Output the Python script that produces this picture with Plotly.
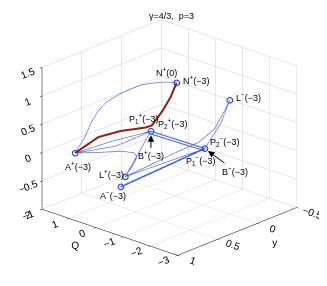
import plotly.graph_objects as go

# ---- data (Q, y, x) ----
pt_names = ["A+", "A-", "N+", "L-", "P+", "P-", "L+"]
pt_Q = [1.37, -0.32, -0.91, -1.99, -0.55, -1.95, -0.19]
pt_y = [0.80, 0.80, 0.30, 0.00, 0.50, 0.30, 0.70]
pt_x = [-0.02, -0.34, 1.31, 1.01, 0.51, 0.32, -0.24]

red_Q = [1.37, 0.74, 0.15, -0.18, -0.49, -0.59, -0.79, -0.87, -0.91]
red_y = [0.80, 0.72, 0.64, 0.60, 0.54, 0.50, 0.43, 0.36, 0.30]
red_x = [-0.02, 0.32, 0.48, 0.54, 0.59, 0.62, 0.88, 1.09, 1.31]

arc_Q = [1.37, 1.15, 1.03, 0.87, 0.69, 0.42, 0.15, -0.12, -0.39, -0.62, -0.91]
arc_y = [0.80, 0.75, 0.715, 0.68, 0.63, 0.58, 0.52, 0.46, 0.40, 0.34, 0.30]
arc_x = [-0.02, 0.27, 0.52, 0.74, 0.90, 1.04, 1.15, 1.24, 1.28, 1.30, 1.31]

loop_Q = [1.37, 0.47, -0.23, -0.66, -0.74, -0.56, -0.34, -0.19]
loop_y = [0.80, 0.78, 0.76, 0.75, 0.74, 0.72, 0.71, 0.70]
loop_x = [-0.02, 0.13, 0.25, 0.29, 0.23, 0.05, -0.12, -0.24]

ap1_Q = [1.37, 0.43, -0.55]
ap1_y = [0.80, 0.65, 0.50]
ap1_x = [-0.02, 0.26, 0.51]

ap2_Q = [1.37, 0.31, -0.55]
ap2_y = [0.80, 0.65, 0.50]
ap2_x = [-0.02, 0.19, 0.51]

pl_Q = [-0.55, -0.19]
pl_y = [0.50, 0.70]
pl_x = [0.51, -0.24]

pp1_Q = [-0.55, -1.95]
pp1_y = [0.50, 0.30]
pp1_x = [0.51, 0.32]

pp2_Q = [-0.55, -1.95]
pp2_y = [0.50, 0.30]
pp2_x = [0.46, 0.28]

am_Q = [-0.32, -1.95]
am_y = [0.80, 0.30]
am_x = [-0.34, 0.32]

lp_Q = [-0.19, -1.95]
lp_y = [0.70, 0.30]
lp_x = [-0.24, 0.32]

pm_Q = [-1.95, -2.12, -1.99]
pm_y = [0.30, 0.15, 0.00]
pm_x = [0.32, 0.72, 1.01]

ll_Q = [-1.99, -1.98, -1.92, -1.72, -1.16, -0.62, -0.19]
ll_y = [0.00, 0.08, 0.17, 0.30, 0.45, 0.58, 0.70]
ll_x = [1.01, 0.82, 0.58, 0.39, 0.17, -0.06, -0.24]

Q_ticks = [-3, -2, -1, 0, 1, 2]
y_ticks = [-0.5, 0, 0.5, 1]
x_ticks = [-1, -0.5, 0, 0.5, 1, 1.5]

label_pt = ["N+", "N+", "L-", "P+", "P+", "P-", "P-", "L+", "A+", "A-"]
label_text = ["N<sup>+</sup>(0)", "N<sup>+</sup>(\u22123)", "L<sup>\u2212</sup>(\u22123)",
              "P<sub>1</sub><sup>+</sup>(\u22123)", "P<sub>2</sub><sup>+</sup>(\u22123)",
              "P<sub>2</sub><sup>\u2212</sup>(\u22123)", "P<sub>1</sub><sup>\u2212</sup>(\u22123)",
              "L<sup>+</sup>(\u22123)", "A<sup>+</sup>(\u22123)", "A<sup>\u2212</sup>(\u22123)"]
arrow_pt = ["P+", "P-"]
arrow_text = ["B<sup>+</sup>(\u22123)", "B<sup>\u2212</sup>(\u22123)"]

# ---- styles ----
label_shift = [(-10, 11), (19, 3), (19, 3), (-7, 13), (22, 8), (20, 7), (-4, -12),
               (-14, 3), (3, -13), (-8, -8)]
arrow_off = [(0, 24), (30, 22)]
BLUE = "#3b5bff"
RED = "#9a1a0c"
FONT = "Liberation Sans, Arial, sans-serif"

fig = go.Figure()

def line(Q, y, x, color=BLUE, width=1.2):
    fig.add_trace(go.Scatter3d(x=Q, y=y, z=x, mode="lines",
                               line=dict(color=color, width=width),
                               hoverinfo="skip", showlegend=False))

line(arc_Q, arc_y, arc_x)
line(loop_Q, loop_y, loop_x)
line(ap1_Q, ap1_y, ap1_x)
line(ap2_Q, ap2_y, ap2_x)
line(pl_Q, pl_y, pl_x)
line(pp1_Q, pp1_y, pp1_x, width=2)
line(pp2_Q, pp2_y, pp2_x, width=2)
line(am_Q, am_y, am_x, width=3)
line(lp_Q, lp_y, lp_x)
line(pm_Q, pm_y, pm_x)
line(ll_Q, ll_y, ll_x)
line(red_Q, red_y, red_x, color=RED, width=4)

fig.add_trace(go.Scatter3d(x=pt_Q, y=pt_y, z=pt_x, mode="markers",
                           marker=dict(symbol="circle-open", size=3.5,
                                       color="#1f3cff", line=dict(width=1.2, color="#1f3cff")),
                           hoverinfo="skip", showlegend=False))

idx = {n: i for i, n in enumerate(pt_names)}
annots = []
for name, txt, (dx, dy) in zip(label_pt, label_text, label_shift):
    i = idx[name]
    annots.append(dict(x=pt_Q[i], y=pt_y[i], z=pt_x[i], text=txt, showarrow=False,
                       xshift=dx, yshift=dy, font=dict(size=9, color="black", family=FONT)))
for name, txt, (ax, ay) in zip(arrow_pt, arrow_text, arrow_off):
    i = idx[name]
    annots.append(dict(x=pt_Q[i], y=pt_y[i], z=pt_x[i], text=txt, showarrow=True,
                       ax=ax, ay=ay, arrowhead=2, arrowsize=1.3, arrowwidth=1,
                       arrowcolor="black", standoff=4,
                       font=dict(size=9, color="black", family=FONT)))

def axis(title, rng, ticks):
    return dict(title=dict(text=title, font=dict(size=10, family=FONT, color="black")),
                range=rng, tickvals=ticks, autorange=False,
                tickfont=dict(size=11, family=FONT, color="black"),
                showgrid=True, gridcolor="#cccccc", gridwidth=1,
                showbackground=False, zeroline=False, showspikes=False,
                showline=True, linecolor="black", linewidth=1,
                ticks="outside", ticklen=3, tickcolor="black")

r = 1.54
fig.update_layout(
    width=327, height=286,
    margin=dict(l=0, r=0, t=0, b=0),
    paper_bgcolor="white",
    title=dict(text="\u03b3=4/3,  p=3", x=0.5, xanchor="center", y=0.985, yanchor="top",
               font=dict(size=9, family=FONT, color="black")),
    scene=dict(
        domain=dict(x=[0.037, 1.0], y=[0.045, 1.0]),
        xaxis=axis("Q", [-3, 2], Q_ticks),
        yaxis=axis("y", [-0.5, 1], y_ticks),
        zaxis=axis("x", [-1, 1.5], x_ticks),
        aspectmode="manual",
        aspectratio=dict(x=1.35, y=1.29, z=1.117),
        camera=dict(projection=dict(type="orthographic"),
                    eye=dict(x=-0.665 * r, y=0.665 * r, z=0.338 * r),
                    up=dict(x=0, y=0, z=1), center=dict(x=-0.042, y=-0.042, z=-0.056)),
        annotations=annots,
        bgcolor="white",
    ),
)

fig.write_html("out.html", config={"displayModeBar": False})
